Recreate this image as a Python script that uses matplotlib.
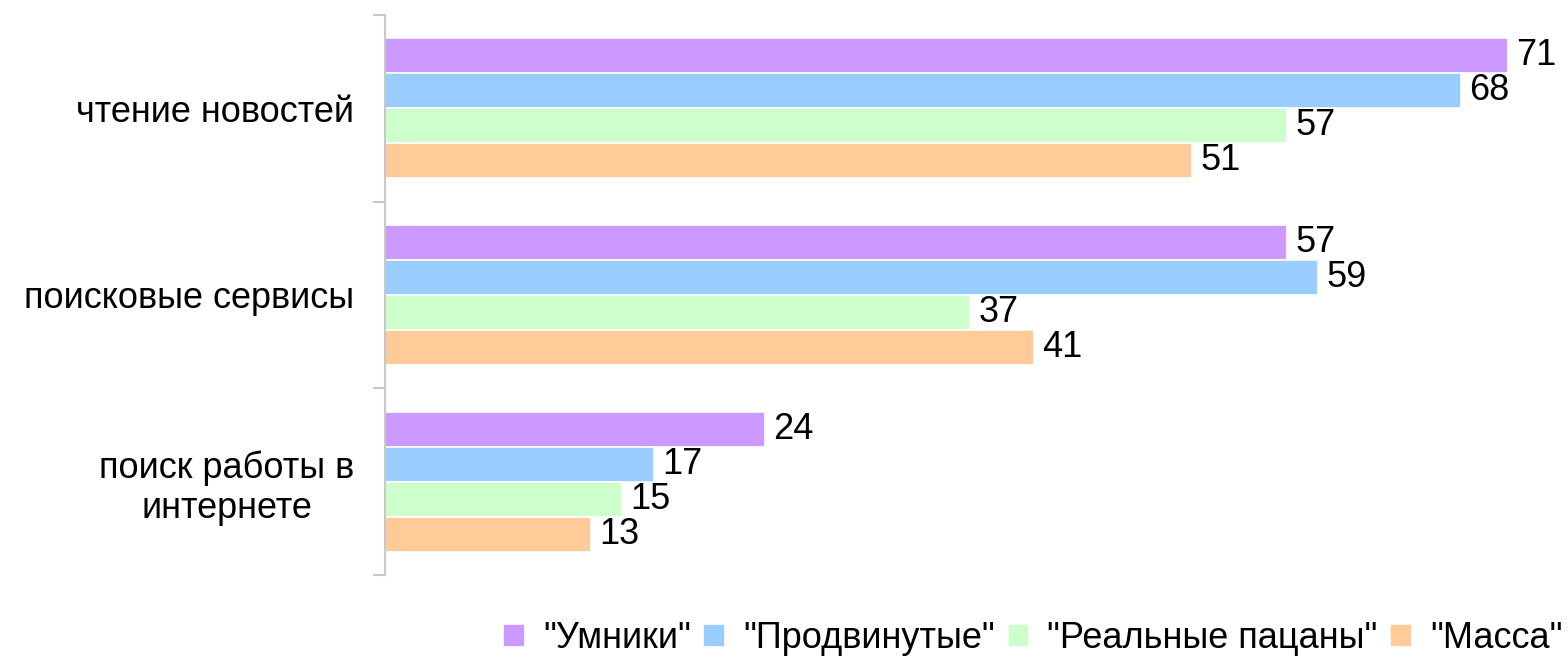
import numpy as np
import matplotlib
matplotlib.use("Agg")
import matplotlib.pyplot as plt

plt.rcParams['font.family'] = ['Liberation Sans', 'DejaVu Sans']

categories = ['чтение новостей', 'поисковые сервисы', 'поиск работы в\nинтернете']
series_names = ['"Умники"', '"Продвинутые"', '"Реальные пацаны"', '"Масса"']
values = [
    [71, 57, 24],   # Умники
    [68, 59, 17],   # Продвинутые
    [57, 37, 15],   # Реальные пацаны
    [51, 41, 13],   # Масса
]
colors = ['#CC99FF', '#99CCFF', '#CCFFCC', '#FFCC99']

fig = plt.figure(figsize=(15.68, 6.58), dpi=100)
ax = fig.add_axes([385 / 1568, 83 / 658, 1165 / 1568, 560 / 658])

y = np.arange(len(categories))
h = 0.1875
for i, (name, vals) in enumerate(zip(series_names, values)):
    offs = (i - 1.5) * h
    bars = ax.barh(y + offs, vals, height=h, color=colors[i], edgecolor='white',
                   linewidth=1.2, label=name)
    ax.bar_label(bars, labels=[str(v) for v in vals], padding=6, fontsize=26,
                 color='black')

ax.set_xlim(0, 1165 / 15.82)
ax.set_ylim(2.5, -0.5)

# group boundary ticks, labels at centers
ax.set_yticks([-0.5, 0.5, 1.5, 2.5])
ax.set_yticklabels([])
ax.set_yticks(y, minor=True)
ax.set_yticklabels(categories, minor=True, fontsize=26, multialignment='center')
ax.tick_params(axis='y', which='major', length=9, color='#c8c8c8', width=1.5)
ax.tick_params(axis='y', which='minor', length=0, pad=22)
ax.set_xticks([])

for s in ['top', 'right', 'bottom']:
    ax.spines[s].set_visible(False)
ax.spines['left'].set_color('#c8c8c8')
ax.spines['left'].set_linewidth(1.5)

handles, labels = ax.get_legend_handles_labels()
fig.legend(handles, labels, loc='center right', bbox_to_anchor=(1.0 + 9 / 1568, 19 / 658),
           ncol=4, frameon=False, fontsize=26, handlelength=0.6, handleheight=0.6,
           handletextpad=0.5, columnspacing=0.35, borderaxespad=0.0)

fig.savefig('out.png', dpi=100)
